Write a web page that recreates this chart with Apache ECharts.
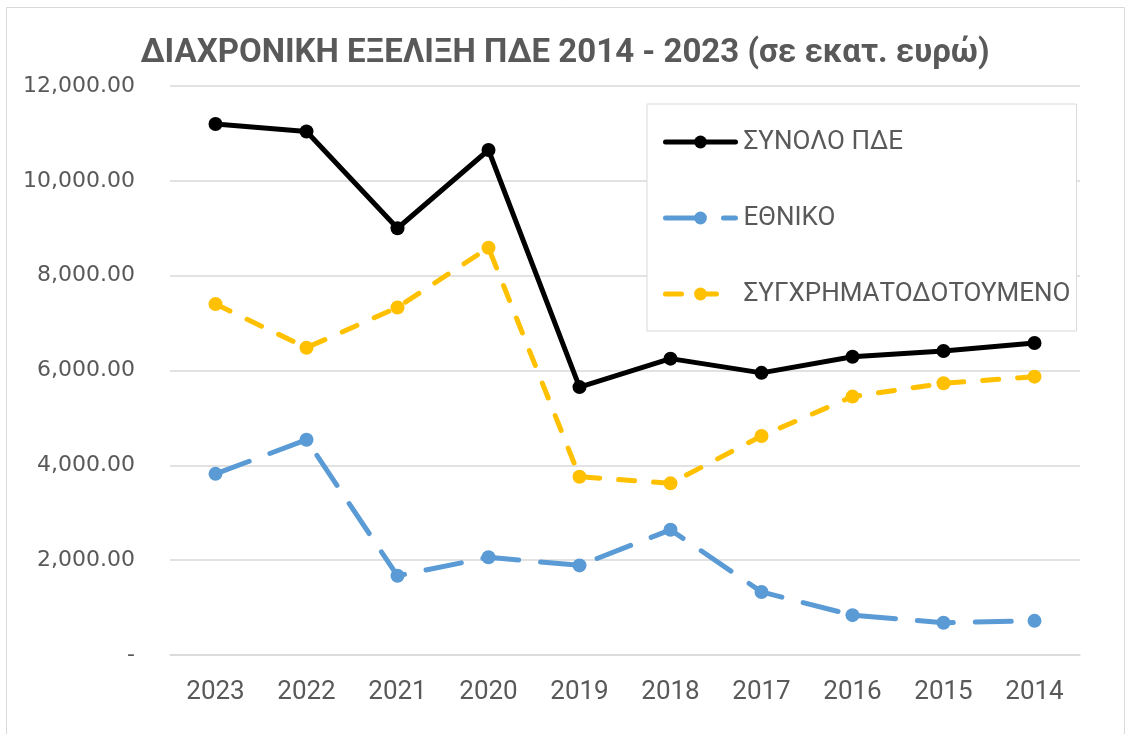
<!DOCTYPE html>
<html>
<head>
<meta charset="utf-8">
<script src="https://cdn.jsdelivr.net/npm/echarts@6/dist/echarts.min.js"></script>
<style>
  html, body { margin: 0; padding: 0; background: #fff; }
  #main { width: 1130px; height: 734px; }
</style>
</head>
<body>
<div id="main"></div>
<script>
// δεδομένα (σε εκατ. ευρώ)
var years = ['2023', '2022', '2021', '2020', '2019', '2018', '2017', '2016', '2015', '2014'];
var synolo = [11200, 11040, 9000, 10650, 5650, 6250, 5950, 6290, 6410, 6580];
var ethniko = [3820, 4540, 1670, 2060, 1890, 2640, 1330, 840, 680, 720];
var sygxr = [7400, 6480, 7330, 8590, 3760, 3620, 4620, 5450, 5730, 5870];
var seriesNames = ['ΣΥΝΟΛΟ ΠΔΕ', 'ΕΘΝΙΚΟ', 'ΣΥΓΧΡΗΜΑΤΟΔΟΤΟΥΜΕΝΟ'];

var textColor = '#595959';
var font = 'Roboto';

var chartDom = document.getElementById('main');
var myChart = echarts.init(chartDom);
var option;

function makeSeries(name, data, color, dash) {
    return {
        name: name,
        type: 'line',
        data: data,
        symbol: 'circle',
        symbolSize: 14,
        showAllSymbol: true,
        itemStyle: { color: color },
        lineStyle: { color: color, width: 5, type: dash, cap: 'round' },
        emphasis: { disabled: true },
        animation: false
    };
}

option = {
    backgroundColor: '#fff',
    textStyle: { fontFamily: font },
    title: {
        text: 'ΔΙΑΧΡΟΝΙΚΗ ΕΞΕΛΙΞΗ ΠΔΕ 2014 - 2023 (σε εκατ. ευρώ)',
        left: 'center',
        top: 32,
        textStyle: { color: textColor, fontSize: 33, fontWeight: 'bold', fontFamily: font }
    },
    graphic: [{
        type: 'rect',
        shape: { x: 6.5, y: 7.5, width: 1118, height: 740 },
        style: { fill: 'none', stroke: '#d9d9d9', lineWidth: 1 },
        silent: true
    }],
    legend: {
        orient: 'vertical',
        left: 647,
        top: 104,
        padding: [25, 6, 24, 16],
        itemGap: 50,
        itemWidth: 70,
        itemHeight: 16,
        borderColor: '#d9d9d9',
        borderWidth: 1,
        backgroundColor: '#fff',
        data: seriesNames,
        lineStyle: { width: 5 },
        itemStyle: { borderWidth: 0 },
        textStyle: { color: textColor, fontSize: 26, fontFamily: font, padding: [0, 0, 0, 3] }
    },
    grid: { left: 170, right: 50, top: 86, bottom: 79 },
    xAxis: {
        type: 'category',
        data: years,
        boundaryGap: true,
        axisLine: { lineStyle: { color: '#d9d9d9', width: 1.5 } },
        axisTick: { show: false },
        axisLabel: { color: textColor, fontSize: 26, margin: 24, fontFamily: font }
    },
    yAxis: {
        type: 'value',
        min: 0,
        max: 12000,
        interval: 2000,
        axisLine: { show: false },
        axisTick: { show: false },
        splitLine: { lineStyle: { color: '#d9d9d9', width: 1.5 } },
        axisLabel: {
            color: textColor,
            fontSize: 22,
            margin: 35,
            fontFamily: 'DejaVu Sans',
            formatter: function (v) {
                if (v == 0) return '-';
                return v.toLocaleString('en-US', { minimumFractionDigits: 2, maximumFractionDigits: 2 });
            }
        }
    },
    series: [
        makeSeries(seriesNames[0], synolo, '#000000', 'solid'),
        makeSeries(seriesNames[1], ethniko, '#5b9bd5', [36, 22]),
        makeSeries(seriesNames[2], sygxr, '#ffc000', [16, 19])
    ]
};
option && myChart.setOption(option);
</script>
</body>
</html>
